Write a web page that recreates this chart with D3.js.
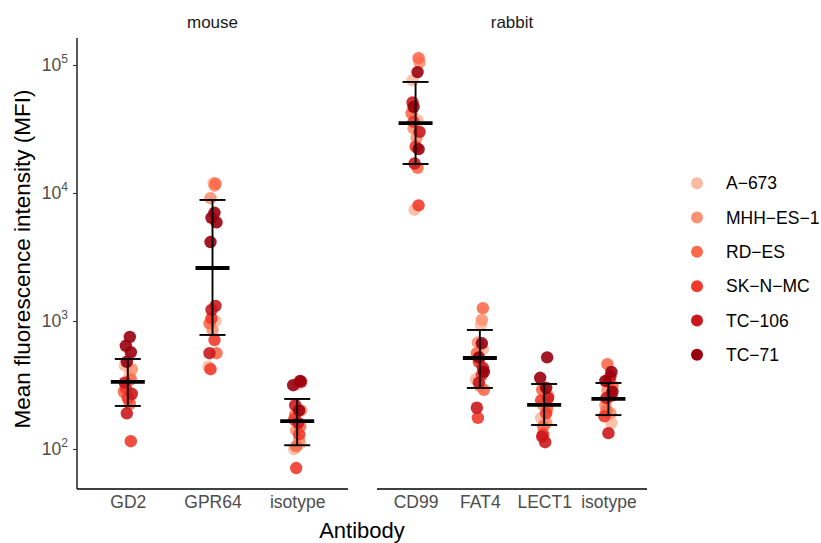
<!DOCTYPE html>
<html>
<head>
<meta charset="utf-8">
<style>
  body { margin: 0; background: #fff; }
  svg { font-family: "Liberation Sans", Arial, sans-serif; }
</style>
</head>
<body>
<svg id="chart" width="821" height="543"></svg>
<script src="https://cdn.jsdelivr.net/npm/d3@7"></script>
<script>
// cell lines and their colours (brewer Reds)
var cellLines = ["A-673", "MHH-ES-1", "RD-ES", "SK-N-MC", "TC-106", "TC-71"];
var cellColors = ["#FCBBA1", "#FC9272", "#FB6A4A", "#EF3B2C", "#CB181D", "#99000D"];

var hosts = ["mouse", "rabbit"];
var mouseAbs = ["GD2", "GPR64", "isotype"];
var rabbitAbs = ["CD99", "FAT4", "LECT1", "isotype"];

// MFI values per antibody, one row per cell line (same order as cellLines)
var mGD2 = [[450, 380, 260], [420, 300, 240], [350, 280, 225], [300, 250, 115], [330, 270, 190], [750, 640, 570, 480]];
var mGPR64 = [[12000, 1000, 440], [11400, 9100, 850], [11800, 960, 560], [1050, 710, 420], [1310, 1220, 560], [7000, 6400, 5900, 4140]];
var mIso = [[320, 110, 100], [200, 140, 118], [185, 150, 105], [170, 130, 71], [335, 220, 160], [340, 315, 200]];
var rCD99 = [[76000, 37000, 7400], [105000, 32000, 27000], [113000, 42000, 15700], [36000, 23000, 8000], [51000, 30000, 17000], [88000, 47000, 22000]];
var rFAT4 = [[930, 600, 350], [1020, 680, 310], [1260, 560, 290], [480, 380, 175], [430, 330, 210], [670, 520, 400]];
var rLECT1 = [[300, 200, 175], [260, 220, 160], [290, 210, 150], [240, 190, 130], [250, 125, 113], [520, 360, 300]];
var rIso = [[330, 240, 160], [290, 220, 190], [460, 310, 200], [350, 260, 180], [370, 250, 133], [400, 340, 280]];

// summary (mean with lower / upper error)
var mouseMean = [334, 2594, 165];
var mouseLow = [217, 778, 107];
var mouseHigh = [505, 8820, 246];
var rabbitMean = [35200, 514, 221, 246];
var rabbitLow = [16850, 300, 154, 184];
var rabbitHigh = [73700, 851, 322, 328];

var yTicks = [100, 1000, 10000, 100000];

var svg = d3.select("#chart");
var yTop = 38, yBottom = 489;

var y = d3.scaleLog().domain([48.7, 162500]).range([yBottom, yTop]);

var panels = [
  { host: "mouse", abs: mouseAbs, data: [mGD2, mGPR64, mIso], mean: mouseMean, low: mouseLow, high: mouseHigh, x0: 77, x1: 348 },
  { host: "rabbit", abs: rabbitAbs, data: [rCD99, rFAT4, rLECT1, rIso], mean: rabbitMean, low: rabbitLow, high: rabbitHigh, x0: 377, x1: 647 }
];

var jit = [-3, 2, -1, 4, -2, 1, 3, -4, 2, -2, 0, 3, -3, 4, -1, 2, -2, 3, -1];

panels.forEach(function(p) {
  var x = d3.scalePoint().domain(p.abs).range([p.x0, p.x1]).padding(0.6);
  var g = svg.append("g");

  // strip label
  svg.append("text").attr("x", (p.x0 + p.x1) / 2).attr("y", 28)
    .attr("text-anchor", "middle").style("font-size", "17px").style("fill", "#1A1A1A")
    .text(p.host);

  // points
  p.abs.forEach(function(ab, ai) {
    var k = 0;
    p.data[ai].forEach(function(vals, ci) {
      vals.forEach(function(v) {
        g.append("circle")
          .attr("cx", x(ab) + jit[(k + ai * 5) % jit.length])
          .attr("cy", y(v))
          .attr("r", 6.2)
          .attr("fill", cellColors[ci])
          .attr("fill-opacity", 0.9);
        k++;
      });
    });
  });

  // error bars + mean
  p.abs.forEach(function(ab, ai) {
    var cx = x(ab);
    g.append("line").attr("x1", cx).attr("x2", cx).attr("y1", y(p.low[ai])).attr("y2", y(p.high[ai]))
      .attr("stroke", "#000").attr("stroke-width", 1.9);
    [p.low[ai], p.high[ai]].forEach(function(v) {
      g.append("line").attr("x1", cx - 13).attr("x2", cx + 13).attr("y1", y(v)).attr("y2", y(v))
        .attr("stroke", "#000").attr("stroke-width", 1.9);
    });
    g.append("line").attr("x1", cx - 17).attr("x2", cx + 17).attr("y1", y(p.mean[ai])).attr("y2", y(p.mean[ai]))
      .attr("stroke", "#000").attr("stroke-width", 3.8);
  });

  // x axis
  var xa = svg.append("g").attr("transform", "translate(0," + yBottom + ")")
    .call(d3.axisBottom(x).tickSize(0).tickPadding(7));
  xa.select(".domain").attr("stroke", "#000").attr("stroke-width", 1.3)
    .attr("d", "M" + p.x0 + ",0H" + p.x1);
  xa.selectAll("text").style("font-size", "17.5px").style("fill", "#4D4D4D").style("font-family", "Liberation Sans, Arial, sans-serif");
});

// y axis
var ya = svg.append("g").attr("transform", "translate(77,0)")
  .call(d3.axisLeft(y).tickValues(yTicks).tickSize(4).tickFormat(""));
ya.select(".domain").attr("stroke", "#000").attr("stroke-width", 1.3).attr("d", "M0," + yTop + "V" + yBottom);
ya.selectAll(".tick line").attr("stroke", "#333").attr("stroke-width", 1.1);
yTicks.forEach(function(t) {
  var tx = svg.append("text").attr("x", 68).attr("y", y(t) + 6).attr("text-anchor", "end")
    .style("fill", "#4D4D4D").style("font-size", "17.5px");
  tx.append("tspan").text("10");
  tx.append("tspan").attr("dy", -8).style("font-size", "12px").text(Math.round(Math.log10(t)));
});

// axis titles
svg.append("text").attr("transform", "translate(30,259) rotate(-90)").attr("text-anchor", "middle")
  .style("font-size", "22.5px").style("fill", "#000").text("Mean fluorescence intensity (MFI)");
svg.append("text").attr("x", 362).attr("y", 538).attr("text-anchor", "middle")
  .style("font-size", "22px").style("fill", "#000").text("Antibody");

// legend
var leg = d3.scaleBand().domain(cellLines).range([166, 372]);
cellLines.forEach(function(c, i) {
  var cy = leg(c) + leg.bandwidth() / 2;
  svg.append("circle").attr("cx", 697).attr("cy", cy).attr("r", 6).attr("fill", cellColors[i]);
  svg.append("text").attr("x", 726).attr("y", cy + 6).style("font-size", "17.5px").style("fill", "#000").text(c.replace(/-/g, "\u2212"));
});
</script>
</body>
</html>
